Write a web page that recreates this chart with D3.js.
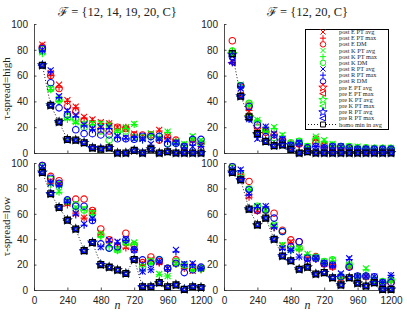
<!DOCTYPE html>
<html>
<head>
<meta charset="utf-8">
<script src="https://cdn.jsdelivr.net/npm/d3@7"></script>
<style>
body{margin:0;background:#fff}
svg text{font-family:"Liberation Sans",Arial,sans-serif;fill:#222}
.serif{font-family:"Liberation Serif","DejaVu Serif",serif}
.lab{font-family:"Liberation Serif","DejaVu Serif",serif}
</style>
</head>
<body>
<svg id="chart" width="407" height="314"></svg>
<script>
/*global d3*/

// DATA ....
const N = [60,120,180,240,300,360,420,480,540,600,660,720,780,840,900,960,1020,1080,1140,1200];
const X_TICKS = [0,240,480,720,960,1200];
const Y_TICKS = [0,20,40,60,80,100];
const TITLES = ["\u2131 = {12, 14, 19, 20, C}", "\u2131 = {12, 20, C}"];
const ROW_LABELS = ["\u03c4-spread=high", "\u03c4-spread=low"];
const SERIES = ["post E PT avg","post E PT max","post E DM","post K PT avg","post K PT max","post K DM",
  "post R PT avg","post R PT max","post R DM","pre E PT avg","pre E PT max","pre K PT avg","pre K PT max",
  "pre R PT avg","pre R PT max","homo min in avg"];

// top left: F={12,14,19,20,C}, high
const TL_postE_avg = [84,62,53,41,36,28,26,24,23,20,19,15,13,15,18,13,9,5,10,6];
const TL_postE_max = [83,60,51,40,35,27,25,23,23,19,20,14,12,14,17,12,9,6,9,7];
const TL_postE_dm  = [82,60,50,36,32,25,22,18,17,20,19,14,14,14,10,12,10,5,8,7.5];
const TL_postK_avg = [78,50,42,27,24,23,23,23,22,17,20,22.5,11,15,12,16.5,9,7,13,10];
const TL_postK_max = [77,49,40,26,23,22,22,22,21,16,19,22,10,14,11,16,8,6,12,9];
const TL_postK_dm  = [80,50,41,28,26,20,20,17,10,16,17,12,12,12.7,12.7,7.5,7.5,6,8,7.5];
const TL_postR_avg = [80,64,44,33,29.5,22,19,20,20,13,12,11,11,7,11,10,8,5,5,5.5];
const TL_postR_max = [79,63,43,32,28,21,18,19,19,12,11,12,10,6,10,9,7,4,6,5];
const TL_postR_dm  = [81,54.5,35,29.5,18,15,15,14,14,11,11,10.6,13,12.7,13,7,7.5,5,10.6,10.6];
const TL_preE_avg  = [68,37,24,10.5,10,8,4,3,4,0,0,2,0,3,0,1,0,0,0,0];
const TL_preE_max  = [68,37,24,10,10,8,4,3,4,0,0,2,0,3,0,1,0,0,0,0];
const TL_preK_avg  = [68,37,24,10.5,10,8,4,3,4,0,0,2,0,3,0,1,0,0,0,0];
const TL_preK_max  = [68,37,24,10,10,8,4,3,4,0,0,2,0,3,0,1,0,0,0,0];
const TL_preR_avg  = [68,37,24,10.5,10,8,4,3.5,4,0,0,2,0,3,0,1,0,0,0,0];
const TL_preR_max  = [68,37,24,10.5,10,8,4,3,4,0,0,2,0,3,0,1,0,0,0,0];
const TL_homo      = [68,37,24,10.5,10,8,4,3,4,0,0,2,0,3,0,1,0,0,0,0];

// top right: F={12,20,C}, high
const TR_postE_avg = [71,52,32,18,18,15,10,6,7,3.6,11,6,4,4,3.6,3,3,3,3,3];
const TR_postE_max = [70,46,33,12.7,17,14,10,5,6,3,10,5,3,3,3,3,2,2,3,3];
const TR_postE_dm  = [87,52,37,20,16,14,10,7,7,4,8,6,4,4,4,3,3,3,3,3];
const TR_postK_avg = [78,53,38,25.6,17,20,14,7.5,9,5.4,12.7,10,7,5.4,5,5,4,4,4,4];
const TR_postK_max = [79,52,37,25,16.5,19,13,7,8,5,11.5,9,6,5,4.5,4.5,4,4,4,4];
const TR_postK_dm  = [79,52,38.5,24,18,12,11,8,9,5,10,7,6,5,5,4,4,3.5,3.5,3.5];
const TR_postR_avg = [71,50,27,11,20.4,15,11,6,8,3,5,4,5,5,3,3,3,2.5,2.5,2.5];
const TR_postR_max = [70,51,26,12,20,14,10,6,7,3,5,4,4,4,3,3,3,2.5,2.5,2.5];
const TR_postR_dm  = [75,52,36,21.7,12.7,10,10,6,7.5,4,5,4,5,5,4,3,3,3,3,3];
const TR_preE_avg  = [77,44,28,15,9,5.7,6.2,2.8,0,1,0,0,0,0,0,0,0,0,0,0];
const TR_preE_max  = [70,45,28,15,9,5.7,6.2,2.8,0,1,0,0,0,0,0,0,0,0,0,0];
const TR_preK_avg  = [77,44,28,15,9,5.7,6.2,2.8,0,1,0,0,0,0,0,0,0,0,0,0];
const TR_preK_max  = [77,44,28,15,9,5.7,6.2,2.8,0,1,0,0,0,0,0,0,0,0,0,0];
const TR_preR_avg  = [76,44,27,15,9,5.7,6.2,2.8,0,1,0,0,0,0,0,0,0,0,0,0];
const TR_preR_max  = [70,44,26,15,9,5.7,6.2,2.8,0,1,0,0,0,0,0,0,0,0,0,0];
const TR_homo      = [77,44,28,15,9,5.7,6.2,2.8,0,1,0,0,0,0,0,0,0,0,0,0];

// bottom left: F={12,14,19,20,C}, low
const BL_postE_avg = [97,85,84,68,60,57,62,45,39,35,34,33,21,24,22,17,21,18,15,17];
const BL_postE_max = [96,84,83,67,60.5,56.6,61,44,38,34,33,32,20,23,21,16,20,17,16,16];
const BL_postE_dm  = [98,89.5,86,69,71.6,71.6,62.6,48,39.5,34,44.7,35.5,21.6,26,22.4,17,23.7,19.7,18.4,17];
const BL_postK_avg = [97,84,77.6,70,65,64,60.5,43.4,35.5,31.6,37,37.4,17,22.4,12.6,11,21,19.7,17,17];
const BL_postK_max = [96,83,77,69,64,63,59,42,34,31,36,36,16,21,12,11,20,19,16,16];
const BL_postK_dm  = [97,87,83,70,67,63,60,43.4,33,31.6,38,35.5,18,22.4,24,17,22.4,19.7,17,17];
const BL_postR_avg = [97,84,83,70,60.5,52,56.6,33.7,39.5,38,40,31.6,14.5,15.8,22.4,17,31.6,20.5,21,17];
const BL_postR_max = [96,85,82,69,59,51,55,34,38,37,39,32,15,16,22,16,30,20,20,17];
const BL_postR_dm  = [98,88,84,71,66,66,54.7,36.3,33,34,39.5,31.6,23.7,21,23.7,17,21,13.7,15.8,18];
const BL_preE_avg  = [92.6,75.8,65,55,48,31,37.4,20,18,15.8,13,24,2.6,2.6,5.8,2.6,4,0.5,2.6,2];
const BL_preE_max  = [92.6,75.8,65,55,48,31,37.4,20,18,15.8,13,24,2.6,2.6,5.8,2.6,4,0.5,2.6,2];
const BL_preK_avg  = [92.6,75.8,65,55,48,31,37.4,20,18,15.8,13,24,2.6,2.6,5.8,2.6,4,0.5,2.6,2];
const BL_preK_max  = [92.6,75.8,65,55,48,31,37.4,20,18,15.8,13,24,2.6,2.6,5.8,2.6,4,0.5,2.6,2];
const BL_preR_avg  = [92.6,75.8,65,55,48,31,37.4,20,18,15.8,13,24,2.6,2.6,5.8,2.6,4,0.5,2.6,2];
const BL_preR_max  = [92.6,75.8,65,55,48,31,37.4,20,18,15.8,13,24,2.6,2.6,5.8,2.6,4,0.5,2.6,2];
const BL_homo      = [92.6,75.8,65,55,48,31,37.4,20,18,15.8,13,24,2.6,2.6,5.8,2.6,4,0.5,2.6,2];

// bottom right: F={12,20,C}, low
const BR_postE_avg = [97,89.5,73.7,62.6,63,50,35,38,33,25,25,20.5,18.4,9.2,18.4,10.5,10.5,7.4,5.3,8];
const BR_postE_max = [96,88,73,62,62,49,34,37,32,24,24,20,18,9,18,10,10,7,5,7.5];
const BR_postE_dm  = [97,89.5,85.5,62.6,63,60.5,47,39.5,38,25,26.3,20.5,18.4,10,18.4,10.5,10.5,7.4,5.3,5.8];
const BR_postK_avg = [97,91,79.5,66,63,51.3,35.5,31.6,33,28.4,25.8,22.4,23.7,10.5,19.7,10.5,17,8,6.6,8];
const BR_postK_max = [96,90,79,65,62,50,35,31,32,28,25,22,23,10,19,10,16,8,6.5,8];
const BR_postK_dm  = [97,91,79.5,66,63,51.3,46,32,33,26,25.8,22.4,23.7,10.5,19.7,10.5,11,8,6.6,8];
const BR_postR_avg = [94.7,94.7,76,65.8,66,50,33,31.6,26.3,23.7,25,21,19.7,13,25,11,11,10.5,5.8,11.8];
const BR_postR_max = [95,94,75,65,65.5,49,32,31,26,23,24.5,21,19,12,24,11,11,10,6,11.5];
const BR_postR_dm  = [97,87,79,63,63,56.6,46,34,38,25,25,21,19.7,10.5,18,11,11,10.5,5.8,6];
const BR_preE_avg  = [92.6,86.8,63.7,51.3,56.6,40,26.8,23,16.3,18,12.6,13.7,9.7,4,9.7,5.3,3.2,5.8,0.5,0.5];
const BR_preE_max  = [92.6,86.8,63.7,51.3,56.6,40,26.8,23,16.3,18,12.6,13.7,9.7,4,9.7,5.3,3.2,5.8,0.5,0.5];
const BR_preK_avg  = [92.6,86.8,63.7,51.3,56.6,40,26.8,23,16.3,18,12.6,13.7,9.7,4,9.7,5.3,3.2,5.8,0.5,0.5];
const BR_preK_max  = [92.6,86.8,63.7,51.3,56.6,40,26.8,23,16.3,18,12.6,13.7,9.7,4,9.7,5.3,3.2,5.8,0.5,0.5];
const BR_preR_avg  = [92.6,86.8,63.7,51.3,56.6,40,26.8,23,16.3,18,12.6,13.7,9.7,4,9.7,5.3,3.2,5.8,0.5,0.5];
const BR_preR_max  = [92.6,86.8,63.7,51.3,56.6,40,26.8,23,16.3,18,12.6,13.7,9.7,4,9.7,5.3,3.2,5.8,0.5,0.5];
const BR_homo      = [92.6,86.8,63.7,51.3,56.6,40,26.8,23,16.3,18,12.6,13.7,9.7,4,9.7,5.3,3.2,5.8,0.5,0.5];

// STYLE (one per series, same order as SERIES)
const COLOR  = ["#f00","#f00","#f00","#0f0","#0f0","#0f0","#00f","#00f","#00f","#f00","#f00","#0f0","#0f0","#00f","#00f","#000"];
const MARKER = ["x","+","o","x","+","o","x","+","o","p","<","p","<","p","<","s"];

// panels
var panels = [
  {x:[34,201], y:[24,153], title:TITLES[0], row:ROW_LABELS[0], xlabels:false,
   data:[TL_postE_avg,TL_postE_max,TL_postE_dm,TL_postK_avg,TL_postK_max,TL_postK_dm,TL_postR_avg,TL_postR_max,TL_postR_dm,
         TL_preE_avg,TL_preE_max,TL_preK_avg,TL_preK_max,TL_preR_avg,TL_preR_max,TL_homo]},
  {x:[224,391], y:[24,153], title:TITLES[1], row:null, xlabels:false,
   data:[TR_postE_avg,TR_postE_max,TR_postE_dm,TR_postK_avg,TR_postK_max,TR_postK_dm,TR_postR_avg,TR_postR_max,TR_postR_dm,
         TR_preE_avg,TR_preE_max,TR_preK_avg,TR_preK_max,TR_preR_avg,TR_preR_max,TR_homo]},
  {x:[34,201], y:[163,290], title:null, row:ROW_LABELS[1], xlabels:true,
   data:[BL_postE_avg,BL_postE_max,BL_postE_dm,BL_postK_avg,BL_postK_max,BL_postK_dm,BL_postR_avg,BL_postR_max,BL_postR_dm,
         BL_preE_avg,BL_preE_max,BL_preK_avg,BL_preK_max,BL_preR_avg,BL_preR_max,BL_homo]},
  {x:[224,391], y:[163,290], title:null, row:null, xlabels:true,
   data:[BR_postE_avg,BR_postE_max,BR_postE_dm,BR_postK_avg,BR_postK_max,BR_postK_dm,BR_postR_avg,BR_postR_max,BR_postR_dm,
         BR_preE_avg,BR_preE_max,BR_preK_avg,BR_preK_max,BR_preR_avg,BR_preR_max,BR_homo]}
];

var svg = d3.select("#chart");

// pre markers sit inside the homo square, so they are drawn smaller in the plot
function markerPath(type, k, inPlot)
{
    var r = 3*k;
    switch(type){
      case "x": return "M"+(-r)+","+(-r)+"L"+r+","+r+"M"+(-r)+","+r+"L"+r+","+(-r);
      case "+": r = 3.5*k; return "M"+(-r)+",0L"+r+",0M0,"+(-r)+"L0,"+r;
      case "o": return d3.symbol(d3.symbolCircle, Math.PI*10.5*k*k)();
      case "p": return d3.symbol(d3.symbolStar, (inPlot ? 16 : 30)*k*k)();
      case "<": r = (inPlot ? 2.6 : 3)*k; return "M"+(-r-0.8)+",0L"+r+","+(-r)+"L"+r+","+r+"Z";
      case "s": r = 2.9*k; return "M"+(-r)+","+(-r)+"H"+r+"V"+r+"H"+(-r)+"Z";
    }
}

for(var p of panels)
{
    var xScale = d3.scaleLinear().domain([0,1200]).range(p.x);
    var yScale = d3.scaleLinear().domain([0,100]).range([p.y[1], p.y[0]]);
    var g = svg.append("g");

    var xAxis = d3.axisBottom(xScale).tickValues(X_TICKS).tickSizeInner(-2.5).tickSizeOuter(0).tickPadding(7).tickFormat(d3.format("d"));
    if(!p.xlabels) xAxis.tickFormat("");
    var yAxis = d3.axisLeft(yScale).tickValues(Y_TICKS).tickSizeInner(-2.5).tickSizeOuter(0).tickPadding(6);

    var gx = g.append("g").attr("transform","translate(0,"+p.y[1]+")").call(xAxis);
    var gy = g.append("g").attr("transform","translate("+p.x[0]+",0)").call(yAxis);
    for(var ax of [gx,gy]){
        ax.select(".domain").attr("stroke","#222").attr("stroke-width",0.8);
        ax.selectAll(".tick line").attr("stroke","#222").attr("stroke-width",0.8);
        ax.selectAll(".tick text").attr("font-size",10).attr("font-family","Liberation Sans, Arial, sans-serif").attr("fill","#222");
    }

    if(p.title)
        g.append("text").attr("class","serif").attr("x",(p.x[0]+p.x[1])/2).attr("y",16)
         .attr("text-anchor","middle").attr("font-size",12.5).text(p.title);
    if(p.row)
        g.append("text").attr("class","lab").attr("text-anchor","middle").attr("font-size",11)
         .attr("transform","translate(10,"+((p.y[0]+p.y[1])/2)+") rotate(-90)").text(p.row);
    if(p.xlabels)
        g.append("text").attr("class","lab").attr("x",(p.x[0]+p.x[1])/2).attr("y",309)
         .attr("text-anchor","middle").attr("font-size",12).attr("font-style","italic").text("n");

    // series in legend order, homo last
    p.data.forEach(function(vals, i){
        var pts = vals.map(function(v, j){ return [xScale(N[j]), yScale(v)]; });
        if(i == SERIES.length-1)
            g.append("path").attr("d", d3.line()(pts)).attr("fill","none")
             .attr("stroke","#000").attr("stroke-width",0.9).attr("stroke-dasharray","1,2");
        g.selectAll(".m"+i).data(pts).enter().append("path").attr("class","m"+i)
         .attr("transform", function(d){ return "translate("+d[0]+","+d[1]+")"; })
         .attr("d", markerPath(MARKER[i], 1, true))
         .attr("fill","none").attr("stroke", COLOR[i]).attr("stroke-width", i == SERIES.length-1 ? 1.3 : 1.1);
    });
}

// LEGEND
var lg = svg.append("g");
lg.append("rect").attr("x",305.5).attr("y",29.5).attr("width",83).attr("height",100)
  .attr("fill","#fff").attr("stroke","#000").attr("stroke-width",1);
var ly = d3.scalePoint().domain(SERIES).range([32,124.5]);
SERIES.forEach(function(name, i){
    var y = ly(name);
    if(i == SERIES.length-1)
        lg.append("line").attr("x1",308).attr("x2",337).attr("y1",y).attr("y2",y)
          .attr("stroke","#000").attr("stroke-width",0.9).attr("stroke-dasharray","1,2");
    lg.append("path").attr("transform","translate(323,"+y+")").attr("d", markerPath(MARKER[i], 0.85, false))
      .attr("fill", i == SERIES.length-1 ? "#fff" : "none").attr("stroke",COLOR[i]).attr("stroke-width",1);
    lg.append("text").attr("class","lab").attr("x",339).attr("y",y+2).attr("font-size",6.3)
      .attr("fill","#444").text(name);
});
</script>
</body>
</html>
